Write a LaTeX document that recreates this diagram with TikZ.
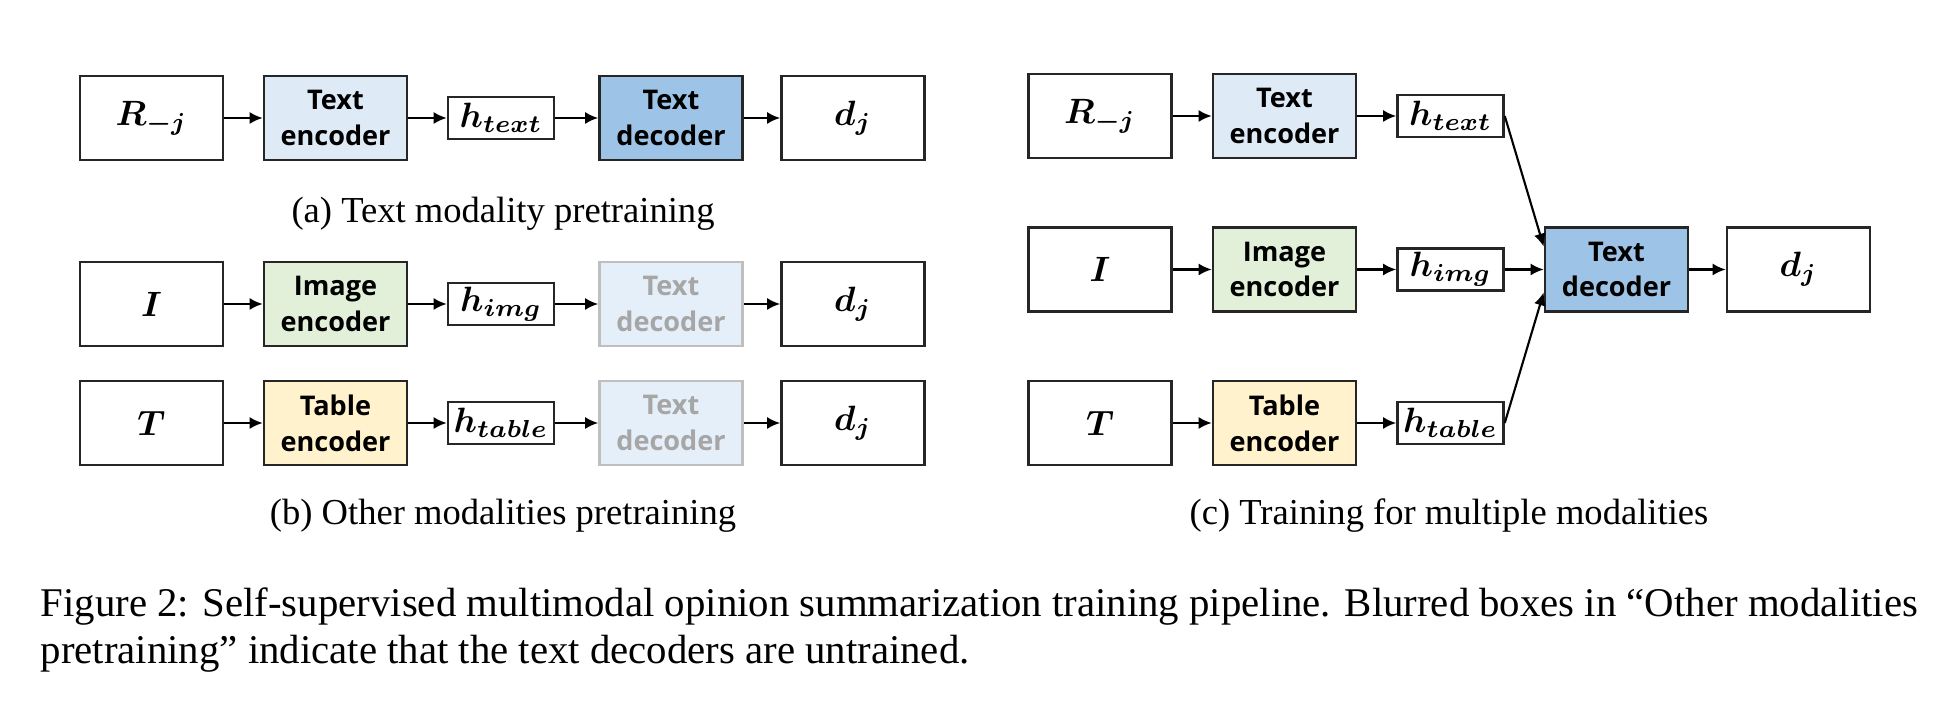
\documentclass[tikz,border=0pt]{standalone}
\usepackage{fontspec}
\setmainfont{Liberation Serif}
\newfontfamily\boxfont{Open Sans}
\usepackage{bm}
\usetikzlibrary{arrows.meta}
\definecolor{encblue}{HTML}{DEEBF7}
\definecolor{decblue}{HTML}{9DC3E6}
\definecolor{encgreen}{HTML}{E2F0D9}
\definecolor{encyellow}{HTML}{FFF2CC}
\definecolor{fadeline}{HTML}{BFBFBF}
\definecolor{fadetext}{HTML}{A6A6A6}
\begin{document}
\begin{tikzpicture}
	[x=0.01cm,y=-0.01cm,
	 io/.style={rectangle,draw=black!85,line width=0.7pt,minimum width=1.43cm,minimum height=0.84cm,inner sep=0pt,font=\fontsize{10.3}{12}\selectfont},
	 block/.style={io,font=\boxfont\bfseries\fontsize{7.7}{10.2}\selectfont,align=center},
	 hid/.style={io,minimum width=1.06cm,minimum height=0.42cm},
	 faded/.style={block,fill=encblue!80!white,draw=fadeline,text=fadetext},
	 subcap/.style={font=\fontsize{10.4}{12.8}\selectfont,anchor=base},
	 >={Latex[length=3.7pt,width=3.4pt]}]
    \useasboundingbox (0,0) rectangle (1950,704);
    % (a) text modality pretraining
    \node[io] (Ra) at (151.5,118) {$\bm{R_{-j}}$};
    \node[block,fill=encblue] (TEa) at (335.5,118) {Text\\encoder};
    \node[hid] (Hta) at (501,118) {\raisebox{-2.5pt}{$\bm{h_{text}}$}};
    \node[block,fill=decblue] (TDa) at (671,118) {Text\\decoder};
    \node[io] (Da) at (853,118) {$\bm{d_j}$};
    \draw [semithick,->] (Ra) -- (TEa);
    \draw [semithick,->] (TEa) -- (Hta);
    \draw [semithick,->] (Hta) -- (TDa);
    \draw [semithick,->] (TDa) -- (Da);
    \node[subcap] (capa) at (503,223) {(a) Text modality pretraining};
    % (b) other modalities pretraining
    \node[io] (Ib) at (151.5,304) {$\bm{I}$};
    \node[block,fill=encgreen] (IEb) at (335.5,304) {Image\\encoder};
    \node[hid] (Hib) at (501,304) {\raisebox{-2.5pt}{$\bm{h_{img}}$}};
    \node[faded] (TDb) at (671,304) {Text\\decoder};
    \node[io] (Db) at (853,304) {$\bm{d_j}$};
    \draw [semithick,->] (Ib) -- (IEb);
    \draw [semithick,->] (IEb) -- (Hib);
    \draw [semithick,->] (Hib) -- (TDb);
    \draw [semithick,->] (TDb) -- (Db);
    \node[io] (Tb) at (151.5,423) {$\bm{T}$};
    \node[block,fill=encyellow] (TabEb) at (335.5,423) {Table\\encoder};
    \node[hid] (Htb) at (501,423) {\raisebox{-2.5pt}{$\bm{h_{table}}$}};
    \node[faded] (TDbb) at (671,423) {Text\\decoder};
    \node[io] (Dbb) at (853,423) {$\bm{d_j}$};
    \draw [semithick,->] (Tb) -- (TabEb);
    \draw [semithick,->] (TabEb) -- (Htb);
    \draw [semithick,->] (Htb) -- (TDbb);
    \draw [semithick,->] (TDbb) -- (Dbb);
    \node[subcap] (capb) at (503,525) {(b) Other modalities pretraining};
    % (c) training for multiple modalities
    \node[io] (Rc) at (1100,116) {$\bm{R_{-j}}$};
    \node[block,fill=encblue] (TEc) at (1284.5,116) {Text\\encoder};
    \node[hid] (Htc) at (1450.5,116) {\raisebox{-2.5pt}{$\bm{h_{text}}$}};
    \node[io] (Ic) at (1100,269.5) {$\bm{I}$};
    \node[block,fill=encgreen] (IEc) at (1284.5,269.5) {Image\\encoder};
    \node[hid] (Hic) at (1450.5,269.5) {\raisebox{-2.5pt}{$\bm{h_{img}}$}};
    \node[io] (Tc) at (1100,423) {$\bm{T}$};
    \node[block,fill=encyellow] (TabEc) at (1284.5,423) {Table\\encoder};
    \node[hid] (Htbc) at (1450.5,423) {\raisebox{-2.5pt}{$\bm{h_{table}}$}};
    \node[block,fill=decblue] (TDc) at (1616.5,269.5) {Text\\decoder};
    \node[io] (Dc) at (1798.5,269.5) {$\bm{d_j}$};
    \draw [semithick,->] (Rc) -- (TEc);
    \draw [semithick,->] (TEc) -- (Htc);
    \draw [semithick,->] (Ic) -- (IEc);
    \draw [semithick,->] (IEc) -- (Hic);
    \draw [semithick,->] (Tc) -- (TabEc);
    \draw [semithick,->] (TabEc) -- (Htbc);
    \draw [semithick,->] (Htc.east) -- ([yshift=6.5pt]TDc.west);
    \draw [semithick,->] (Hic) -- (TDc);
    \draw [semithick,->] (Htbc.east) -- ([yshift=-6.5pt]TDc.west);
    \draw [semithick,->] (TDc) -- (Dc);
    \node[subcap] (capc) at (1449,525) {(c) Training for multiple modalities};
    % figure caption
    \node[subcap,anchor=base west,text width=18.76cm,align=justify,inner sep=0pt,font=\fontsize{11.6}{13.2}\selectfont] (fig) at (40,617)
      {Figure 2: Self-supervised multimodal opinion summarization training pipeline. Blurred boxes in ``Other modalities\linebreak pretraining'' indicate that the text decoders are untrained.};
\end{tikzpicture}
\end{document}
